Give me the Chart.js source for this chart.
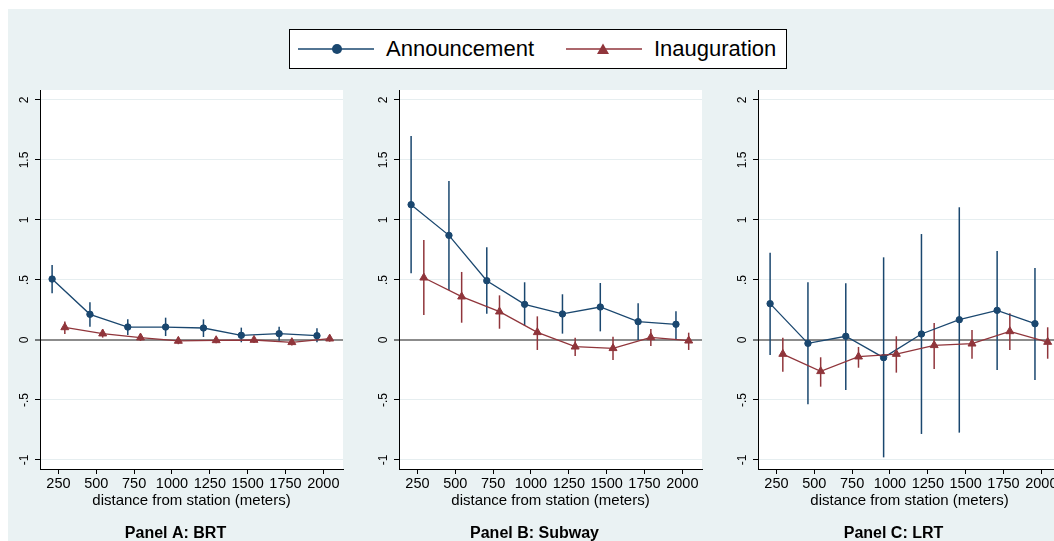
<!DOCTYPE html>
<html>
<head>
<meta charset="utf-8">
<title>Efecto por distancia a la estación</title>
<script src="https://cdn.jsdelivr.net/npm/chart.js@4.4.1/dist/chart.umd.min.js"></script>
<style>
  html, body { margin: 0; padding: 0; background: #fff; width: 1054px; height: 541px; overflow: hidden;
               font-family: "Liberation Sans", Arial, sans-serif; }
  #fondo { position: absolute; left: 8px; top: 9px; right: 0; bottom: 0; background: #eaf2f3; }
  .panel { position: absolute; top: 80px; }
  #leyenda { position: absolute; left: 289px; top: 29px; width: 498px; height: 40px; box-sizing: border-box;
             border: 1px solid #000; background: #fff; }
  #leyenda svg, #leyenda span { position: absolute; }
  #leyenda span { font-size: 22px; line-height: 22px; top: 8px; color: #000; white-space: nowrap; }
</style>
</head>
<body>
<div id="fondo"></div>

<div id="leyenda">
  <svg style="left:8px;top:12px" width="76" height="14">
    <line x1="0" y1="7" x2="76" y2="7" stroke="#1a476f" stroke-width="1.5"/>
    <circle cx="39" cy="7" r="5" fill="#1a476f"/>
  </svg>
  <span style="left:96px">Announcement</span>
  <svg style="left:276px;top:12px" width="76" height="14">
    <line x1="0" y1="7" x2="76" y2="7" stroke="#90353b" stroke-width="1.5"/>
    <polygon points="31,12 43,12 37,1.5" fill="#90353b"/>
  </svg>
  <span style="left:364px">Inauguration</span>
</div>

<canvas id="panelA" class="panel" style="left:8px" width="359" height="480"></canvas>
<canvas id="panelB" class="panel" style="left:367px" width="359" height="480"></canvas>
<canvas id="panelC" class="panel" style="left:726px" width="359" height="480"></canvas>

<script>
// Distancias (metros) y marcas de los ejes
const distancias = [250, 500, 750, 1000, 1250, 1500, 1750, 2000];
const xTicks = [250, 500, 750, 1000, 1250, 1500, 1750, 2000];
const yTicks = [-1, -0.5, 0, 0.5, 1, 1.5, 2];
const yTickLabels = ['-1', '-.5', '0', '.5', '1', '1.5', '2'];

// Panel A: BRT
const brtAnuncio   = [0.508, 0.214, 0.108, 0.108, 0.100, 0.039, 0.053, 0.036];
const brtAnuncioLo = [0.389, 0.111, 0.042, 0.033, 0.025, -0.019, -0.006, -0.019];
const brtAnuncioHi = [0.625, 0.314, 0.172, 0.186, 0.172, 0.103, 0.111, 0.097];
const brtInaug     = [0.105, 0.053, 0.020, -0.008, -0.003, 0.000, -0.019, 0.011];
const brtInaugLo   = [0.050, 0.020, -0.008, -0.035, -0.028, -0.025, -0.045, -0.014];
const brtInaugHi   = [0.155, 0.088, 0.048, 0.020, 0.022, 0.025, 0.006, 0.036];

// Panel B: Subway
const subAnuncio   = [1.128, 0.872, 0.494, 0.297, 0.217, 0.275, 0.153, 0.131];
const subAnuncioLo = [0.556, 0.417, 0.219, 0.117, 0.053, 0.072, 0.000, 0.008];
const subAnuncioHi = [1.700, 1.325, 0.772, 0.481, 0.381, 0.475, 0.306, 0.239];
const subInaug     = [0.519, 0.361, 0.236, 0.064, -0.056, -0.069, 0.022, -0.006];
const subInaugLo   = [0.208, 0.144, 0.094, -0.083, -0.133, -0.167, -0.050, -0.083];
const subInaugHi   = [0.833, 0.567, 0.372, 0.197, 0.019, 0.028, 0.092, 0.061];

// Panel C: LRT
const lrtAnuncio   = [0.303, -0.028, 0.031, -0.147, 0.050, 0.169, 0.247, 0.136];
const lrtAnuncioLo = [-0.125, -0.536, -0.417, -0.978, -0.783, -0.772, -0.250, -0.333];
const lrtAnuncioHi = [0.728, 0.481, 0.472, 0.689, 0.883, 1.106, 0.742, 0.600];
const lrtInaug     = [-0.117, -0.261, -0.139, -0.117, -0.044, -0.031, 0.072, -0.017];
const lrtInaugLo   = [-0.264, -0.389, -0.231, -0.272, -0.242, -0.156, -0.083, -0.156];
const lrtInaugHi   = [0.019, -0.144, -0.058, 0.031, 0.142, 0.083, 0.222, 0.106];

const NAVY = '#1a476f';
const MAROON = '#90353b';
const FUENTE = '"Liberation Sans", Arial, sans-serif';

Chart.defaults.font.family = FUENTE;
Chart.defaults.color = '#000';

// Las dos series se separan un poco sobre el eje x para que no se tapen
function puntos(valores, desplazamiento) {
    return distancias.map((d, i) => ({ x: d + desplazamiento, y: valores[i] }));
}

// Fondo blanco solo en el área del gráfico
const fondoBlanco = {
    id: 'fondoBlanco',
    beforeDraw(chart) {
        const { ctx, chartArea: a } = chart;
        ctx.save();
        ctx.fillStyle = '#fff';
        ctx.fillRect(a.left, a.top, a.right - a.left, a.bottom - a.top);
        ctx.restore();
    }
};

// Intervalos de confianza (líneas verticales)
const intervalos = {
    id: 'intervalos',
    beforeDatasetsDraw(chart) {
        const { ctx, scales: { x, y } } = chart;
        ctx.save();
        ctx.lineWidth = 1.5;
        chart.data.datasets.forEach(ds => {
            ctx.strokeStyle = ds.borderColor;
            ds.data.forEach((p, i) => {
                const px = x.getPixelForValue(p.x);
                ctx.beginPath();
                ctx.moveTo(px, y.getPixelForValue(ds.ciLo[i]));
                ctx.lineTo(px, y.getPixelForValue(ds.ciHi[i]));
                ctx.stroke();
            });
        });
        ctx.restore();
    }
};

// Etiquetas del eje y giradas 90 grados
const etiquetasY = {
    id: 'etiquetasY',
    afterDraw(chart) {
        const { ctx, scales: { y }, chartArea } = chart;
        ctx.save();
        ctx.fillStyle = '#000';
        ctx.font = '12px ' + FUENTE;
        ctx.textAlign = 'center';
        ctx.textBaseline = 'alphabetic';
        yTicks.forEach((v, i) => {
            ctx.save();
            ctx.translate(chartArea.left - 16.5 + 4.3, y.getPixelForValue(v));
            ctx.rotate(-Math.PI / 2);
            ctx.fillText(yTickLabels[i], 0, 0);
            ctx.restore();
        });
        ctx.restore();
    }
};

function crearPanel(id, titulo, anuncio, anuncioLo, anuncioHi, inaug, inaugLo, inaugHi) {
    const ctx = document.getElementById(id).getContext('2d');
    return new Chart(ctx, {
        type: 'line',
        data: {
            datasets: [{
                label: 'Announcement',
                data: puntos(anuncio, -42),
                ciLo: anuncioLo,
                ciHi: anuncioHi,
                borderColor: NAVY,
                backgroundColor: NAVY,
                borderWidth: 1.3,
                pointStyle: 'circle',
                pointRadius: 3.2,
                pointBorderWidth: 1,
                tension: 0,
                order: 2
            }, {
                label: 'Inauguration',
                data: puntos(inaug, 42),
                ciLo: inaugLo,
                ciHi: inaugHi,
                borderColor: MAROON,
                backgroundColor: MAROON,
                borderWidth: 1.3,
                pointStyle: 'triangle',
                pointRadius: 4.6,
                pointBorderWidth: 1,
                tension: 0,
                order: 1
            }]
        },
        options: {
            responsive: false,
            animation: false,
            events: [],
            layout: { padding: { left: 0, right: 24, top: 10, bottom: 16.8 } },
            scales: {
                x: {
                    type: 'linear',
                    min: 128,
                    max: 2130,
                    afterBuildTicks: s => { s.ticks = xTicks.map(v => ({ value: v })); },
                    afterFit: s => { s.height = 55; },
                    grid: { drawOnChartArea: false, drawTicks: true, tickLength: 5, tickColor: '#000' },
                    border: { color: '#000', width: 1 },
                    ticks: { autoSkip: false, maxRotation: 0, minRotation: 0, padding: 1,
                             font: { size: 14.5 }, color: '#000', callback: v => String(v) },
                    title: { display: true, text: 'distance from station (meters)', color: '#000',
                             font: { size: 15 }, padding: { top: 0, bottom: 14 } }
                },
                y: {
                    type: 'linear',
                    min: -1.075,
                    max: 2.0833,
                    afterBuildTicks: s => { s.ticks = yTicks.map(v => ({ value: v })); },
                    afterFit: s => { s.width = 32; },
                    grid: {
                        color: c => (c.tick && c.tick.value === 0) ? '#8c8c8c' : '#e6eef0',
                        lineWidth: c => (c.tick && c.tick.value === 0) ? 2 : 1,
                        tickColor: '#000',
                        tickWidth: 1,
                        tickLength: 5
                    },
                    border: { color: '#000', width: 1 },
                    ticks: { display: false }
                }
            },
            plugins: {
                legend: { display: false },
                tooltip: { enabled: false },
                title: {
                    display: true,
                    text: titulo,
                    position: 'bottom',
                    color: '#000',
                    font: { size: 16, weight: 'bold' },
                    padding: 0
                }
            }
        },
        plugins: [fondoBlanco, intervalos, etiquetasY]
    });
}

crearPanel('panelA', 'Panel A: BRT', brtAnuncio, brtAnuncioLo, brtAnuncioHi, brtInaug, brtInaugLo, brtInaugHi);
crearPanel('panelB', 'Panel B: Subway', subAnuncio, subAnuncioLo, subAnuncioHi, subInaug, subInaugLo, subInaugHi);
crearPanel('panelC', 'Panel C: LRT', lrtAnuncio, lrtAnuncioLo, lrtAnuncioHi, lrtInaug, lrtInaugLo, lrtInaugHi);
</script>
</body>
</html>
